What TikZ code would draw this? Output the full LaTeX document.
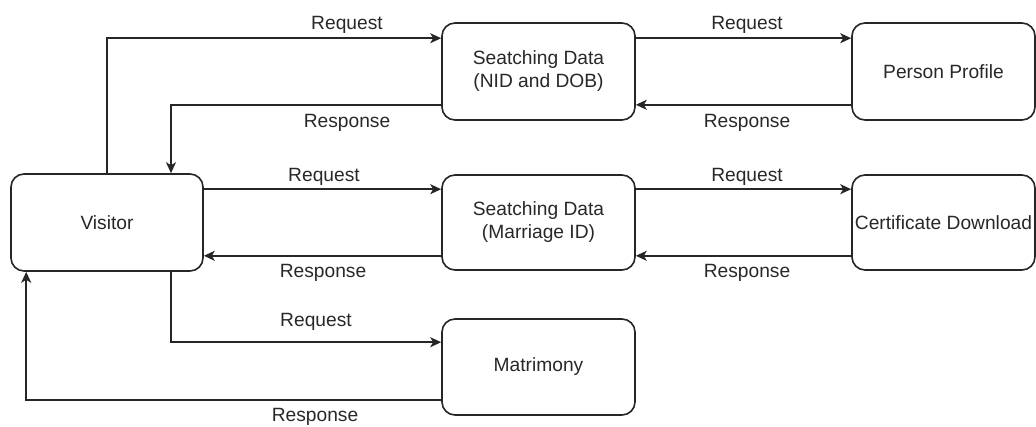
\documentclass[tikz,border=0pt]{standalone}
\usepackage{fontspec}
\setmainfont{Liberation Sans}
\usetikzlibrary{arrows.meta,calc}
\definecolor{txt}{RGB}{40,40,40}
\tikzset{
  box/.style={draw=black!85, line width=1.6pt, rounded corners=13pt, fill=white,
    minimum width=#1, minimum height=97pt, inner sep=0pt, align=center,
    text=txt, font=\fontsize{19.2}{23}\selectfont},
  box/.default=193pt,
  conn/.style={draw=black!85, line width=1.6pt, -{Stealth[length=11pt,width=10pt,inset=3pt]}},
  lbl/.style={text=txt, font=\fontsize{19.2}{23}\selectfont, anchor=base, inner sep=0pt}
}
\begin{document}
\begin{tikzpicture}[x=1pt,y=-1pt]
\useasboundingbox (0,0) rectangle (1036,427);
\node[box=192pt] (vis) at (107,222.5) {Visitor};
\node[box] (nid) at (538.5,71.5) {Seatching Data\\(NID and DOB)};
\node[box=183pt] (pp) at (943.5,71.5) {Person Profile};
\node[box, minimum height=95pt] (mid) at (538.5,222.5) {Seatching Data\\(Marriage ID)};
\node[box=183pt, minimum height=95pt] (cd) at (943.5,222.5) {Certificate Download};
\node[box, minimum height=96pt] (mat) at (538.5,367) {Matrimony};

\coordinate (c1) at ([yshift=-16pt]nid.north west);
\coordinate (c2) at ([yshift=16pt]nid.south west);
\coordinate (c3) at ([yshift=-16pt]vis.north east);
\coordinate (c4) at ([yshift=15pt]mid.south west);
\coordinate (c5) at ([yshift=-24pt]mat.north west);
\coordinate (c6) at ([yshift=16pt]mat.south west);
\coordinate (v1) at ([xshift=64pt]vis.north);
\coordinate (v2) at ([xshift=64pt]vis.south);
\coordinate (v3) at ([xshift=16pt]vis.south west);
\coordinate (c7) at ([yshift=-16pt]nid.north east);
\coordinate (c8) at ([yshift=16pt]pp.south west);
\coordinate (c9) at ([yshift=-15pt]mid.north east);
\coordinate (c10) at ([yshift=15pt]cd.south west);

\draw[conn] (vis.north) |- (c1);
\draw[conn] (c2) -| (v1);
\draw[conn] (c3) -- (mid.west |- c3);
\draw[conn] (c4) -- (vis.east |- c4);
\draw[conn] (v2) |- (c5);
\draw[conn] (c6) -| (v3);
\draw[conn] (c7) -- (pp.west |- c7);
\draw[conn] (c8) -- (nid.east |- c8);
\draw[conn] (c9) -- (cd.west |- c9);
\draw[conn] (c10) -- (mid.east |- c10);

\node[lbl] (l1) at (347,30) {Request};
\node[lbl] (l2) at (347,128) {Response};
\node[lbl] (l3) at (324,182) {Request};
\node[lbl] (l4) at (323,278) {Response};
\node[lbl] (l5) at (316,327) {Request};
\node[lbl] (l6) at (315,421) {Response};
\node[lbl] (l7) at (747,30) {Request};
\node[lbl] (l8) at (747,128) {Response};
\node[lbl] (l9) at (747,182) {Request};
\node[lbl] (l10) at (747,278) {Response};
\end{tikzpicture}
\end{document}
